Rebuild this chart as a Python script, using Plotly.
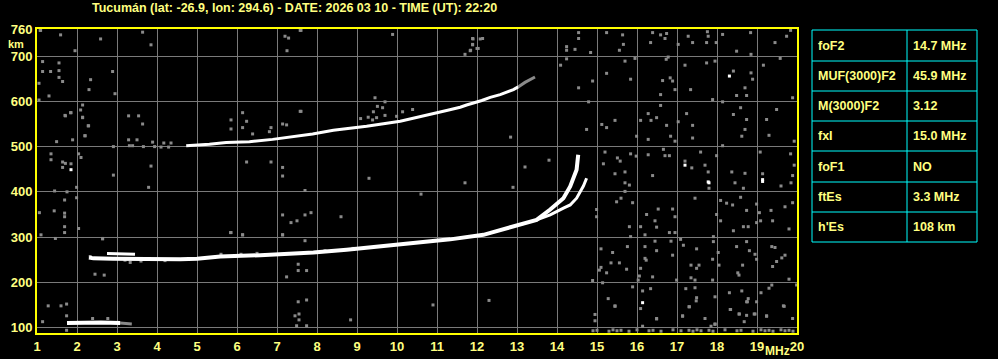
import plotly.graph_objects as go

# ---------------- data ----------------
title_text = "Tucumán (lat: -26.9, lon: 294.6) - DATE: 2026 03 10 - TIME (UT): 22:20"

x_ticks = list(range(1, 21))
y_ticks = [100, 200, 300, 400, 500, 600, 700, 760]

# F2 trace (ordinary), first hop
f2o_f = [2.3, 2.41, 2.9, 3.58, 4.58, 5.0, 5.58, 6.58, 7.91, 8.74, 9.49, 10.0, 11.0, 11.33,
         12.16, 12.99, 13.49, 13.83, 14.16, 14.33, 14.43, 14.49, 14.53]
f2o_km = [255, 253, 252, 251, 251, 252, 257, 260, 266, 272, 279, 283, 291, 295,
          305, 325, 338, 361, 386, 412, 434, 449, 482]
# F2 trace (extraordinary) branch
f2x_f = [13.49, 13.83, 14.16, 14.33, 14.49, 14.66, 14.74]
f2x_km = [338, 349, 364, 371, 386, 413, 430]
# short secondary branch at low frequencies
f2b_f = [2.75, 3.1, 3.45]
f2b_km = [264, 263, 262]

# second hop trace
f2h_f = [4.73, 5.31, 5.73, 6.31, 6.89, 7.31, 7.58, 7.89, 8.41, 9.24, 10.08, 10.49, 10.91,
         11.24, 11.58, 11.74, 12.12, 12.33, 12.58, 12.91, 13.03]
f2h_km = [502, 505, 509, 511, 516, 521, 525, 528, 536, 545, 556, 565, 573,
          580, 587, 592, 602, 609, 615, 626, 632]
f2h_tail_f = [13.03, 13.2, 13.45]
f2h_tail_km = [632, 642, 654]

# sporadic E trace
es_f = [1.75, 2.2, 2.6, 3.08]
es_km = [110, 111, 111, 110]
es_tail_f = [3.08, 3.37]
es_tail_km = [110, 108]

# gray scattered echoes
noise_f = [
    15.24, 15.64, 16.39, 16.59, 16.74, 17.76, 17.78, 18.14, 18.84, 19.84, 15.66, 15.56, 16.34,
    16.70, 17.03, 17.28, 17.39, 17.74, 17.98, 18.49, 18.85, 19.45, 19.74, 14.84, 15.70, 15.95,
    16.73, 16.78, 17.74, 17.95, 17.20, 19.16, 19.58, 15.24, 14.89, 15.84, 16.64, 16.83, 16.89,
    16.59, 16.95, 17.34, 17.89, 18.14, 18.41, 18.85, 18.89, 18.70, 18.49, 18.74, 19.89, 16.59,
    17.24, 15.12, 15.24, 15.45, 16.09, 16.28, 16.35, 16.49, 16.74, 16.84, 17.03, 17.39, 17.39,
    18.41, 18.59, 18.74, 18.70, 18.62, 19.24, 19.49, 19.30, 19.93, 18.14, 15.99, 16.28, 16.95,
    15.20, 15.51, 15.58, 15.84, 15.98, 16.28, 16.66, 16.70, 16.81, 17.20, 17.37, 17.70, 17.78,
    17.59, 17.99, 18.37, 18.70, 19.08, 19.14, 19.84, 19.93, 19.89, 15.70, 15.16, 15.45, 16.39,
    15.70, 15.81, 15.70, 17.80, 18.45, 18.66, 19.60, 19.85, 15.49, 15.60, 15.89, 17.45, 18.09,
    18.24, 18.39, 18.59, 18.99, 19.70, 19.89, 14.99, 14.99, 16.24, 16.53, 16.89, 16.95, 16.45,
    16.09, 15.81, 16.49, 16.20, 16.81, 16.95, 17.99, 18.09, 18.41, 18.66, 18.78, 18.74, 19.06,
    19.09, 19.35, 19.39, 19.80, 18.99, 15.84, 17.91, 17.91, 17.09, 15.10, 15.39, 15.76, 16.20,
    16.45, 16.49, 16.85, 16.89, 17.16, 17.49, 16.20, 16.23, 16.09, 15.35, 15.56, 15.10, 15.24,
    15.74, 15.06, 16.06, 16.39, 16.03, 16.99, 17.35, 17.35, 17.49, 17.55, 17.45, 17.89, 17.89,
    18.03, 18.05, 18.49, 18.74, 18.81, 18.95, 18.52, 18.55, 18.64, 18.99, 19.37, 19.45, 19.70,
    19.49, 19.39, 19.62, 19.80, 14.89, 15.14, 15.89, 16.14, 16.34, 17.22, 17.45, 17.49, 17.30,
    17.95, 18.31, 18.62, 18.76, 18.78, 18.99, 19.10, 19.30, 19.37, 19.68, 19.99, 15.28, 15.45,
    16.09, 16.49, 14.95, 14.95, 18.34, 18.55, 18.74, 18.93, 19.24, 19.89, 17.14, 17.95, 18.68,
    17.70, 15.45, 17.31, 17.48, 17.14, 16.49, 18.33, 18.56, 18.74, 18.95, 19.24, 19.66, 17.95,
    17.85, 16.14,
    14.9, 15.0, 15.3, 15.4, 15.5, 15.6, 15.8, 16.0, 16.3, 16.4, 16.6, 16.9, 17.1, 17.3, 17.4,
    17.5, 17.6, 17.8, 17.9, 18.2, 18.5, 18.6, 18.9, 19.1, 19.2, 19.3, 19.4, 19.6, 19.7, 19.8, 19.9,
    1.71, 1.85, 2.14, 2.29, 2.20, 1.89, 1.49, 3.29, 3.54, 3.64, 3.29, 3.50, 2.91, 3.31, 3.39,
    3.66, 3.89, 3.94, 4.17, 4.35, 4.29, 4.10, 5.85, 5.85, 6.14, 6.24, 6.14, 6.39, 6.81, 6.85,
    7.14, 7.24, 7.60, 1.35, 1.35, 1.64, 1.64, 1.71, 1.85, 2.04, 2.10, 2.91, 3.85, 3.79, 6.24,
    6.85, 7.14, 7.14, 1.44, 1.75, 1.99, 1.99, 1.69, 1.06, 1.43, 1.69, 1.69, 1.69, 1.69, 2.04,
    1.10, 1.46, 2.64, 5.85, 6.14, 7.14, 7.35, 7.50, 7.70, 7.85, 7.14, 7.70,
    7.58, 9.89, 11.89, 12.14, 11.89, 12.03, 11.84, 11.70, 14.54, 14.54, 14.24, 14.24, 14.45,
    14.24, 14.09, 14.54, 14.79, 14.74, 7.58, 9.45, 9.70, 9.51, 9.64, 9.41, 9.09, 9.28, 9.39,
    9.49, 9.70, 9.99, 10.14, 10.39, 12.84,
    1.28, 1.60, 1.74, 1.14, 1.74, 1.74, 2.39, 2.77, 7.53, 7.74, 7.45, 7.55, 7.55, 7.74, 7.49,
    8.84, 1.08, 1.59, 2.59, 1.95, 3.64, 3.85, 7.20, 7.29, 7.25, 7.60, 11.90, 12.08, 11.89,
    12.00, 11.83, 1.09, 1.14, 1.55, 1.14, 1.34, 1.55, 1.55, 1.64, 1.05, 2.34, 2.30, 1.30,
    1.05, 2.14, 2.09, 1.84, 1.70, 2.14, 2.28, 2.20, 2.95, 2.89,
    2.64, 2.45, 2.68, 3.33, 5.84, 6.14, 7.14, 7.70, 7.53, 7.74, 7.53, 7.24, 2.33, 3.20, 3.60,
    4.20, 5.60, 6.10, 6.50, 8.20, 8.90, 10.6, 11.7, 12.3, 13.2, 9.3, 10.9, 8.6, 12.9, 13.8,
]
noise_km = [
    752, 747, 752, 747, 750, 754, 744, 748, 752, 757, 726, 713, 730,
    739, 726, 744, 730, 730, 730, 711, 704, 730, 744, 708, 689, 695,
    693, 698, 685, 689, 680, 680, 695, 662, 645, 649, 646, 652, 645,
    615, 626, 626, 604, 599, 667, 663, 649, 630, 613, 613, 608, 591,
    573, 549, 542, 558, 558, 573, 558, 564, 547, 523, 555, 547, 519,
    571, 586, 560, 538, 523, 560, 582, 525, 512, 502, 523, 516, 512,
    488, 475, 468, 484, 479, 482, 494, 480, 480, 468, 453, 459, 444,
    488, 480, 444, 441, 488, 440, 484, 459, 436, 444, 462, 440, 436,
    420, 415, 401, 408, 420, 408, 413, 420, 378, 386, 376, 386, 381,
    375, 371, 388, 373, 367, 376, 361, 345, 350, 362, 362, 345, 336,
    323, 323, 322, 305, 310, 310, 350, 336, 314, 323, 323, 359, 354,
    336, 359, 336, 318, 332, 301, 301, 290, 295, 274, 266, 279, 279,
    291, 270, 291, 260, 282, 274, 253, 249, 231, 243, 243, 233, 221,
    229, 227, 214, 212, 205, 205, 238, 210, 231, 238, 205, 251, 205,
    266, 238, 279, 290, 270, 262, 221, 216, 238, 251, 279, 277, 260,
    246, 235, 254, 207, 204, 199, 190, 181, 186, 186, 188, 166, 146,
    168, 177, 181, 157, 164, 157, 177, 187, 194, 147, 194, 164, 147,
    142, 120, 129, 115, 140, 130, 127, 130, 125, 120, 125, 107, 113,
    120, 148, 146, 159, 126, 119, 140, 130, 157, 130, 126, 148, 108,
    103, 103,
    93, 94, 92, 95, 93, 94, 92, 95, 93, 94, 92, 95, 93, 94, 92,
    95, 93, 94, 92, 95, 93, 94, 92, 95, 93, 94, 92, 95, 93, 94, 92,
    568, 575, 565, 546, 524, 515, 511, 568, 568, 550, 515, 515, 500, 502, 502,
    500, 510, 500, 508, 508, 499, 499, 559, 539, 575, 556, 542, 528, 533, 542,
    550, 548, 578, 484, 471, 466, 454, 463, 462, 484, 476, 437, 457, 410, 466,
    466, 454, 435, 402, 400, 410, 387, 382, 354, 358, 353, 345, 323, 310, 319,
    305, 297, 297, 310, 305, 349, 332, 336, 349, 354, 305, 403,
    757, 748, 739, 739, 726, 717, 713, 704, 752, 739, 721, 713, 715,
    694, 680, 630, 599, 538, 578, 608, 599, 589, 586, 577, 562, 565, 559,
    564, 569, 567, 577, 582, 521,
    148, 148, 152, 113, 126, 94, 120, 120, 157, 161, 126, 130, 117, 104, 104,
    117, 757, 747, 738, 712, 753, 725, 744, 740, 712, 757, 738, 738, 725,
    717, 712, 757, 688, 685, 666, 666, 668, 653, 644, 640, 648, 626, 612,
    603, 592, 581, 575, 569, 564, 546, 524, 617, 666,
    296, 218, 216, 244, 310, 305, 305, 292, 240, 226, 226, 212, 257, 249, 247,
    248, 262, 262, 264, 270, 275, 395, 420, 160, 455, 430, 150, 345, 410, 470,
]

# isolated white echoes
white_f = [18.31, 17.20, 17.78, 19.14, 17.80, 19.14, 16.14, 1.85]
white_km = [656, 459, 422, 427, 420, 423, 155, 449]

# parameter table
param_names = ["foF2", "MUF(3000)F2", "M(3000)F2", "fxI", "foF1", "ftEs", "h'Es"]
param_values = ["14.7 MHz", "45.9 MHz", "3.12", "15.0 MHz", "NO", "3.3 MHz", "108 km"]

# ---------------- styling ----------------
TXT = "#ffff80"
YEL = "#ffff00"
GRID = "#7a7a7a"
GRAYPT = "#8a8a8a"
FONT = "Liberation Sans"

W, H = 998, 359
L, R, T, B = 37, W - 797, 29, H - 333
pw, ph = W - L - R, H - T - B


def px2paper_x(px):
    return (px - L) / pw


def py2paper_y(py):
    return (H - B - py) / ph


fig = go.Figure()

# noise
fig.add_trace(go.Scatter(x=noise_f, y=noise_km, mode="markers",
                         marker=dict(symbol="square", size=3, color=GRAYPT, line=dict(width=0)),
                         hoverinfo="skip", showlegend=False))

def line_trace(xs, ys, color, width):
    fig.add_trace(go.Scatter(x=xs, y=ys, mode="lines",
                             line=dict(color=color, width=width),
                             hoverinfo="skip", showlegend=False))

line_trace(es_tail_f, es_tail_km, GRAYPT, 3)
line_trace(es_f, es_km, "white", 4)
line_trace(f2h_tail_f, f2h_tail_km, GRAYPT, 3)
line_trace(f2h_f, f2h_km, "white", 3)
line_trace(f2b_f, f2b_km, "white", 3)
line_trace(f2o_f, f2o_km, "white", 4)
line_trace(f2x_f, f2x_km, "white", 3)

fig.add_trace(go.Scatter(x=white_f, y=white_km, mode="markers",
                         marker=dict(symbol="square", size=3, color="white", line=dict(width=0)),
                         hoverinfo="skip", showlegend=False))

axis_font = dict(family=FONT, size=13, color=TXT, weight="bold")

fig.update_layout(
    width=W, height=H,
    margin=dict(l=L, r=R, t=T, b=B, pad=0, autoexpand=False),
    paper_bgcolor="black", plot_bgcolor="black",
    showlegend=False,
    xaxis=dict(range=[1, 20], tickvals=x_ticks, ticktext=[str(v) for v in x_ticks],
               showgrid=True, gridcolor=GRID, gridwidth=1, zeroline=False,
               showline=True, linecolor=YEL, linewidth=2, mirror=True,
               ticks="", tickfont=axis_font, fixedrange=True, automargin=False),
    yaxis=dict(range=[88, 760], tickvals=y_ticks, ticktext=[str(v) for v in y_ticks],
               showgrid=True, gridcolor=GRID, gridwidth=1, zeroline=False,
               showline=True, linecolor=YEL, linewidth=2, mirror=True,
               ticks="", tickfont=axis_font, fixedrange=True, automargin=False),
)

annotations = [
    dict(text=title_text, xref="paper", yref="paper", x=px2paper_x(294), y=py2paper_y(8),
         xanchor="center", yanchor="middle", showarrow=False,
         font=dict(family=FONT, size=12.5, color=TXT, weight="bold")),
    dict(text="km", xref="paper", yref="paper", x=px2paper_x(6), y=py2paper_y(44),
         xanchor="left", yanchor="middle", showarrow=False,
         font=dict(family=FONT, size=11, color=TXT, weight="bold")),
    dict(text="MHz", xref="paper", yref="paper", x=px2paper_x(763), y=py2paper_y(351),
         xanchor="left", yanchor="middle", showarrow=False,
         font=dict(family=FONT, size=12, color=TXT, weight="bold")),
]

# table
tx0, tx1, tx2 = 812, 907, 977
row_edges = [30, 61, 91, 121, 151, 182, 212, 242]
shapes = []
shapes.append(dict(type="rect", xref="paper", yref="paper",
                   x0=px2paper_x(tx0), x1=px2paper_x(tx2),
                   y0=py2paper_y(row_edges[0]), y1=py2paper_y(row_edges[-1]),
                   line=dict(color="#00ffff", width=1), fillcolor="black", layer="above"))
shapes.append(dict(type="line", xref="paper", yref="paper",
                   x0=px2paper_x(tx1), x1=px2paper_x(tx1),
                   y0=py2paper_y(row_edges[0]), y1=py2paper_y(row_edges[-1]),
                   line=dict(color="#00ffff", width=1)))
for e in row_edges[1:-1]:
    shapes.append(dict(type="line", xref="paper", yref="paper",
                       x0=px2paper_x(tx0), x1=px2paper_x(tx2),
                       y0=py2paper_y(e), y1=py2paper_y(e),
                       line=dict(color="#00ffff", width=1)))
cell_font = dict(family=FONT, size=12.5, color=TXT, weight="bold")
for i, (n, v) in enumerate(zip(param_names, param_values)):
    yc = (row_edges[i] + row_edges[i + 1]) / 2
    annotations.append(dict(text=n, xref="paper", yref="paper", x=px2paper_x(816),
                            y=py2paper_y(yc), xanchor="left", yanchor="middle",
                            showarrow=False, font=cell_font))
    annotations.append(dict(text=v, xref="paper", yref="paper", x=px2paper_x(911),
                            y=py2paper_y(yc), xanchor="left", yanchor="middle",
                            showarrow=False, font=cell_font))

fig.update_layout(annotations=annotations, shapes=shapes)

fig.write_html("out.html", config={"displayModeBar": False})
